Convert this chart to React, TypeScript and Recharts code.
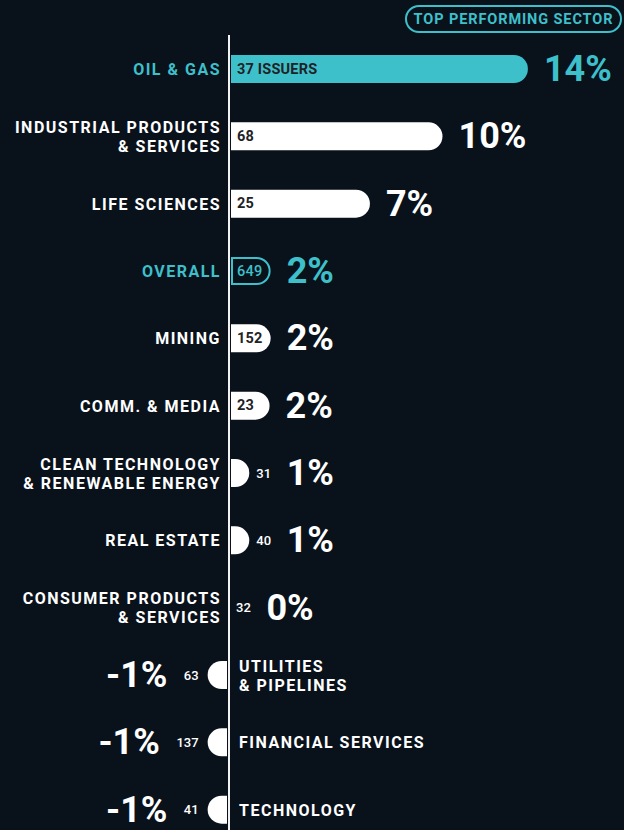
import React from 'react';
import { BarChart, Bar, XAxis, YAxis, ReferenceLine } from 'recharts';

const categories = [
  'OIL & GAS',
  'INDUSTRIAL PRODUCTS\n& SERVICES',
  'LIFE SCIENCES',
  'OVERALL',
  'MINING',
  'COMM. & MEDIA',
  'CLEAN TECHNOLOGY\n& RENEWABLE ENERGY',
  'REAL ESTATE',
  'CONSUMER PRODUCTS\n& SERVICES',
  'UTILITIES\n& PIPELINES',
  'FINANCIAL SERVICES',
  'TECHNOLOGY',
];
const values = [14, 10, 6.6, 1.95, 1.95, 1.9, 0.95, 0.95, 0, -1, -1, -1];
const percentLabels = ['14%', '10%', '7%', '2%', '2%', '2%', '1%', '1%', '0%', '-1%', '-1%', '-1%'];
const issuerCounts = ['37 ISSUERS', '68', '25', '649', '152', '23', '31', '40', '32', '63', '137', '41'];

const data = categories.map((name, i) => ({
  name,
  value: values[i],
  pct: percentLabels[i],
  count: issuerCounts[i],
  idx: i,
}));

const BG = '#09111b';
const TEAL = '#3ec0cb';
const WHITE = '#ffffff';
const DARK = '#1f2326';
const FONT = 'Roboto, "Noto Sans", sans-serif';

function barPath(left: number, right: number, top: number, h: number, roundRight: boolean) {
  const w = right - left;
  if (w <= 0.5) return null;
  const r = h / 2;
  const rx = Math.min(r, w);
  if (roundRight) {
    return `M${left},${top} H${right - rx} A${rx},${r} 0 0 1 ${right},${top + r} A${rx},${r} 0 0 1 ${right - rx},${top + h} H${left} Z`;
  }
  return `M${right},${top} H${left + rx} A${rx},${r} 0 0 0 ${left},${top + r} A${rx},${r} 0 0 0 ${left + rx},${top + h} H${right} Z`;
}

const LABEL_SIZE = 16;
const LABEL_SPACING = 1.5;
const LINE_GAP = 19;

function CategoryLabel(props: { x: number; cy: number; lines: string[]; anchor: 'start' | 'end'; color: string }) {
  const { x, cy, lines, anchor, color } = props;
  const firstY = cy - ((lines.length - 1) / 2) * LINE_GAP;
  return (
    <text x={x} y={firstY} textAnchor={anchor} dominantBaseline="central" fontFamily={FONT}
      fontSize={LABEL_SIZE} fontWeight={700} letterSpacing={LABEL_SPACING} fill={color}>
      {lines.map((ln, k) => (
        <tspan key={k} x={x} dy={k === 0 ? 0 : LINE_GAP}>{ln}</tspan>
      ))}
    </text>
  );
}

const RowShape = (props: any) => {
  const { x, y, width, height, payload } = props;
  const v: number = payload.value;
  const left = Math.min(x, x + width);
  const right = Math.max(x, x + width);
  const zero = v < 0 ? right : left;
  const cy = y + height / 2;
  const isTop = payload.idx === 0;
  const isOverall = payload.name === 'OVERALL';
  const labelColor = isTop || isOverall ? TEAL : WHITE;
  const lines: string[] = payload.name.split('\n');
  const els: React.ReactNode[] = [];

  if (v >= 0) {
    const bl = zero + 2;
    const br = right;
    const w = br - bl;
    const d = barPath(bl, br, y, height, true);
    if (d) {
      if (isOverall) {
        const d2 = barPath(bl + 1, br - 1, y + 1, height - 2, true);
        els.push(<path key="b" d={d2 || ''} fill={BG} stroke={TEAL} strokeWidth={2} />);
      } else {
        els.push(<path key="b" d={d} fill={isTop ? TEAL : WHITE} />);
      }
    }
    let pctX: number;
    if (w >= 34) {
      els.push(
        <text key="c" x={zero + 8} y={cy} dominantBaseline="central" fontFamily={FONT}
          fontSize={14.5} fontWeight={isOverall ? 500 : 700} letterSpacing={0.2}
          fill={isOverall ? TEAL : DARK}>
          {payload.count}
        </text>
      );
      pctX = br + 16;
    } else {
      const cx = Math.max(br, zero) + 7;
      const cw = payload.count.length * 7.2;
      els.push(
        <text key="c" x={cx} y={cy} dominantBaseline="central" fontFamily={FONT}
          fontSize={13} fontWeight={500} fill={WHITE}>
          {payload.count}
        </text>
      );
      pctX = cx + cw + 16;
    }
    els.push(
      <text key="p" x={pctX} y={cy} dominantBaseline="central" fontFamily={FONT}
        fontSize={36} fontWeight={700} fill={isTop || isOverall ? TEAL : WHITE}>
        {payload.pct}
      </text>
    );
    els.push(<CategoryLabel key="l" x={zero - 8} cy={cy} lines={lines} anchor="end" color={labelColor} />);
  } else {
    const bl = left;
    const br = zero - 2;
    const d = barPath(bl, br, y, height, false);
    if (d) els.push(<path key="b" d={d} fill={WHITE} />);
    const cx = bl - 9;
    const cw = payload.count.length * 7.6;
    els.push(
      <text key="c" x={cx} y={cy} textAnchor="end" dominantBaseline="central" fontFamily={FONT}
        fontSize={13} fontWeight={500} fill={WHITE}>
        {payload.count}
      </text>
    );
    els.push(
      <text key="p" x={cx - cw - 16} y={cy} textAnchor="end" dominantBaseline="central"
        fontFamily={FONT} fontSize={36} fontWeight={700} fill={WHITE}>
        {payload.pct}
      </text>
    );
    els.push(<CategoryLabel key="l" x={zero + 10} cy={cy} lines={lines} anchor="start" color={labelColor} />);
  }
  return <g>{els}</g>;
};

const AxisLine = (p: any) => (
  <line x1={p.x1} y1={p.y1 + 6} x2={p.x2} y2={p.y2} stroke="#f2f2f2" strokeWidth={2} />
);

export default function App() {
  return (
    <div style={{ position: 'absolute', left: 0, top: 0, width: 624, height: 830, overflow: 'hidden', background: BG }}>
      <BarChart width={624} height={845} layout="vertical" data={data}
        margin={{ top: 35, right: 0, left: 0, bottom: 2 }} barSize={28}>
        <XAxis type="number" domain={[-10.726, 18.501]} hide allowDataOverflow />
        <YAxis type="category" dataKey="name" hide width={0} />
        <ReferenceLine x={0} shape={AxisLine} ifOverflow="extendDomain" />
        <Bar dataKey="value" isAnimationActive={false} shape={RowShape} />
      </BarChart>
      <div style={{
        position: 'absolute', left: 405, top: 5, width: 217, height: 28, boxSizing: 'border-box',
        border: `2px solid ${TEAL}`, borderRadius: 14, color: TEAL, fontFamily: FONT,
        fontWeight: 700, fontSize: 14.5, letterSpacing: 0.9, display: 'flex', alignItems: 'center',
        justifyContent: 'center',
      }}>
        TOP PERFORMING SECTOR
      </div>
    </div>
  );
}
